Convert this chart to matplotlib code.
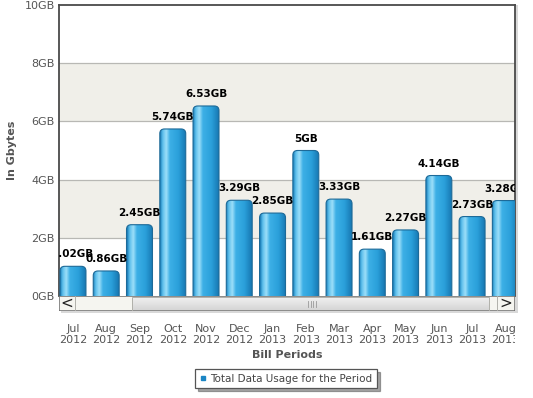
import matplotlib
matplotlib.use("Agg")
import matplotlib.pyplot as plt
import numpy as np
from matplotlib.patches import FancyBboxPatch, Rectangle
from matplotlib.colors import LinearSegmentedColormap
from matplotlib.lines import Line2D

# data
months = ["Jul", "Aug", "Sep", "Oct", "Nov", "Dec", "Jan",
          "Feb", "Mar", "Apr", "May", "Jun", "Jul", "Aug"]
years = ["2012", "2012", "2012", "2012", "2012", "2012", "2013",
         "2013", "2013", "2013", "2013", "2013", "2013", "2013"]
usage = [1.02, 0.86, 2.45, 5.74, 6.53, 3.29, 2.85,
         5.0, 3.33, 1.61, 2.27, 4.14, 2.73, 3.28]
usage_labels = ["1.02GB", "0.86GB", "2.45GB", "5.74GB", "6.53GB", "3.29GB", "2.85GB",
                "5GB", "3.33GB", "1.61GB", "2.27GB", "4.14GB", "2.73GB", "3.28GB"]
yticks = [0, 2, 4, 6, 8, 10]
ytick_labels = ["0GB", "2GB", "4GB", "6GB", "8GB", "10GB"]

W, H = 533, 398
fig = plt.figure(figsize=(W / 100, H / 100), dpi=100)
fig.patch.set_facecolor("white")

def fbox(x0, y0, x1, y1):
    # pixel box (top-left origin) -> figure fraction rect
    return [x0 / W, 1 - y1 / H, (x1 - x0) / W, (y1 - y0) / H]

# shadow behind plot frame
fig.patches.append(Rectangle((61 / W, 1 - 313 / H), 457 / W, 308 / H,
                             transform=fig.transFigure, facecolor="#d9d9d9",
                             edgecolor="none", zorder=-5))

ax = fig.add_axes(fbox(59, 5, 515, 296))
ax.set_zorder(1)
ax.set_facecolor("white")
x = np.arange(len(usage))

# alternating bands and grid
for lo in (2, 6):
    ax.axhspan(lo, lo + 2, color="#f0efe9", zorder=0, lw=0)
for yv in yticks[1:-1]:
    ax.axhline(yv, color="#b8b8b4", lw=0.9, zorder=1)

bar_w = 0.78
bars = ax.bar(x, usage, width=bar_w, color="none", edgecolor="none", zorder=2)

grad = LinearSegmentedColormap.from_list("cyl", [
    (0.0, "#1a7fba"), (0.1, "#5ec0ec"), (0.24, "#9edff9"),
    (0.38, "#3db0e6"), (0.72, "#2a9fda"), (1.0, "#1778b2")])
gimg = grad(np.linspace(0, 1, 64))[None, :, :3]

for rect in bars:
    bx, bw, bh = rect.get_x(), rect.get_width(), rect.get_height()
    shape = FancyBboxPatch((bx, -0.4), bw, bh + 0.4,
                           boxstyle="round,pad=0,rounding_size=0.14",
                           mutation_aspect=1.15, facecolor="none",
                           edgecolor="#1d6a98", lw=0.8, zorder=4)
    ax.add_patch(shape)
    im = ax.imshow(gimg, extent=(bx, bx + bw, -0.4, bh), aspect="auto",
                   interpolation="bilinear", zorder=3)
    im.set_clip_path(shape)

ax.set_xlim(-0.42, 13.29)
ax.set_ylim(0, 10)

for xi, v, lab in zip(x, usage, usage_labels):
    ax.annotate(lab, (xi, v), xytext=(0, 5), textcoords="offset points",
                ha="center", va="bottom", fontsize=7.5, fontweight="bold",
                color="black", clip_on=True, zorder=5)

ax.set_xticks(x)
ax.set_xticklabels([m + "\n" + y for m, y in zip(months, years)],
                   fontsize=8, color="#555555", linespacing=1.15)
ax.tick_params(axis="x", length=0, pad=20)
for t in ax.get_xticklabels():
    t.set_clip_path(Rectangle((59 / W, 0), 456 / W, 1, transform=fig.transFigure))

ax.set_yticks(yticks)
ax.set_yticklabels(ytick_labels, fontsize=8, color="#555555")
ax.tick_params(axis="y", length=0, pad=3)

for s in ("left", "top", "right"):
    ax.spines[s].set_color("#4a4a4a")
    ax.spines[s].set_linewidth(1.3)
ax.spines["bottom"].set_visible(False)

fig.text(12 / W, 1 - 150 / H, "In Gbytes", rotation=90, ha="center", va="center",
         fontsize=8, fontweight="bold", color="#555555")
fig.text(287 / W, 1 - 355 / H, "Bill Periods", ha="center", va="center",
         fontsize=8, fontweight="bold", color="#555555")

# scroll bar under the plot
sb = fig.add_axes(fbox(59, 296, 515, 311))
sb.set_zorder(2)
sb.axis("off")
sb.add_patch(Rectangle((59, 0), 456, 15, facecolor="#f5f5f0", edgecolor="#6e6e6e", lw=1.1))
thumb = Rectangle((132, 0.5), 357, 14, facecolor="none", edgecolor="#b0b0aa", lw=0.7, zorder=3)
sb.add_patch(thumb)
tg = sb.imshow(np.linspace(0.95, 0.84, 16)[:, None, None] * np.ones((16, 2, 3)),
               extent=(132, 489, 0.5, 14.5), aspect="auto", zorder=2)
tg.set_clip_path(thumb)
for gx in (308, 310.5, 313, 315.5):
    sb.plot([gx, gx], [4.5, 10.5], color="#9a9a9a", lw=0.6, zorder=4)
sb.plot([75, 75], [0, 15], color="#b0b0aa", lw=0.7, zorder=4)
sb.plot([497, 497], [0, 15], color="#b0b0aa", lw=0.7, zorder=4)
sb.text(67, 7.5, "<", ha="center", va="center", fontsize=11, color="#222222")
sb.text(506, 7.5, ">", ha="center", va="center", fontsize=11, color="#222222")
sb.set_xlim(59, 515)
sb.set_ylim(0, 15)

# legend
handle = Line2D([], [], marker="s", linestyle="none", color="#1a85c4", markersize=3.5)
leg = fig.legend([handle], ["Total Data Usage for the Period"],
                 loc="center", bbox_to_anchor=(286 / W, 1 - 378.5 / H),
                 fontsize=7.5, frameon=True, fancybox=False, shadow=True,
                 handlelength=0.6, handletextpad=0.4, borderpad=0.45,
                 labelcolor="#444444")
leg.get_frame().set_edgecolor("#555555")
leg.get_frame().set_linewidth(0.9)

fig.savefig("out.png", dpi=100)
